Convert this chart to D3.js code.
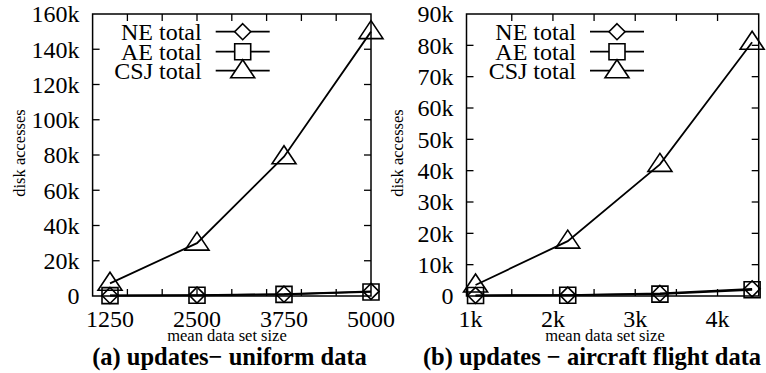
<!DOCTYPE html>
<html>
<head>
<meta charset="utf-8">
<script src="https://cdn.jsdelivr.net/npm/d3@7"></script>
<style>
  body { margin: 0; background: #fff; }
  svg text { font-family: "Liberation Serif", "Times New Roman", serif; fill: #000; }
</style>
</head>
<body>
<div id="chart"></div>
<script>
// panel (a) uniform data
const sizesA = [1250, 2500, 3750, 5000];
const neA = [300, 500, 1000, 2600];
const aeA = [200, 400, 900, 2300];
const csjA = [7200, 30000, 79000, 150000];
const xLabelsA = [1250, 2500, 3750, 5000];

// panel (b) aircraft flight data
const sizesB = [1060, 2180, 3300, 4420];
const neB = [200, 300, 800, 2300];
const aeB = [150, 250, 600, 2000];
const csjB = [3500, 17500, 42000, 81000];
const xLabelsB = [1000, 2000, 3000, 4000];

const seriesNames = ["NE total", "AE total", "CSJ total"];
const markers = ["diamond", "square", "triangle"];

const width = 766, height = 373;
const svg = d3.select("#chart").append("svg")
  .attr("width", width)
  .attr("height", height);

const kfmt = v => v === 0 ? "0" : (v / 1000) + "k";

function markerPath(type) {
  if (type === "diamond") return "M0,-8L8,0L0,8L-8,0Z";
  if (type === "square") return "M-8,-8H8V8H-8Z";
  return "M0,-11L12,7H-12Z";
}

function drawPanel(cfg) {
  const g = svg.append("g");
  const x = d3.scaleLinear().domain(cfg.xDomain).range([cfg.left, cfg.right]);
  const y = d3.scaleLinear().domain(cfg.yDomain).range([cfg.bottom, cfg.top]);

  // y ticks, mirrored
  const yt = d3.range(cfg.yDomain[0], cfg.yDomain[1] + 1, cfg.yStep);
  yt.forEach(v => {
    if (v > cfg.yDomain[0] && v < cfg.yDomain[1]) {
      g.append("line").attr("x1", cfg.left).attr("x2", cfg.left + 7)
        .attr("y1", y(v)).attr("y2", y(v)).attr("stroke", "#000").attr("stroke-width", 1.3);
      g.append("line").attr("x1", cfg.right).attr("x2", cfg.right - 7)
        .attr("y1", y(v)).attr("y2", y(v)).attr("stroke", "#000").attr("stroke-width", 1.3);
    }
    g.append("text").attr("x", cfg.left - 13).attr("y", y(v)).attr("dy", "0.35em")
      .attr("text-anchor", "end").attr("font-size", 24).text(kfmt(v));
  });

  // x ticks, mirrored
  cfg.xTicks.forEach(v => {
    g.append("line").attr("x1", x(v)).attr("x2", x(v))
      .attr("y1", cfg.bottom).attr("y2", cfg.bottom - 7).attr("stroke", "#000").attr("stroke-width", 1.3);
    g.append("line").attr("x1", x(v)).attr("x2", x(v))
      .attr("y1", cfg.top).attr("y2", cfg.top + 7).attr("stroke", "#000").attr("stroke-width", 1.3);
  });
  cfg.xLabels.forEach(v => {
    g.append("text").attr("x", x(v)).attr("y", 326.5)
      .attr("text-anchor", "middle").attr("font-size", 24).text(cfg.xfmt(v));
  });

  // frame
  g.append("rect").attr("x", cfg.left).attr("y", cfg.top)
    .attr("width", cfg.right - cfg.left).attr("height", cfg.bottom - cfg.top)
    .attr("fill", "none").attr("stroke", "#000").attr("stroke-width", 1.5);

  // series
  const line = d3.line().x(d => x(d[0])).y(d => y(d[1]));
  cfg.series.forEach((vals, i) => {
    const pts = cfg.sizes.map((s, j) => [s, vals[j]]);
    g.append("path").attr("d", line(pts)).attr("fill", "none")
      .attr("stroke", "#000").attr("stroke-width", 1.8);
  });
  [1, 0, 2].forEach(i => {
    const pts = cfg.sizes.map((s, j) => [s, cfg.series[i][j]]);
    g.selectAll(null).data(pts).enter().append("path")
      .attr("transform", d => `translate(${x(d[0])},${y(d[1])})`)
      .attr("d", markerPath(markers[i]))
      .attr("fill", "none").attr("stroke", "#000").attr("stroke-width", 1.6);
  });

  // legend
  const rows = [31.7, 51.7, 70.7];
  seriesNames.forEach((name, i) => {
    g.append("text").attr("x", cfg.legX).attr("y", rows[i]).attr("dy", "0.35em")
      .attr("text-anchor", "end").attr("font-size", 24).text(name);
    g.append("line").attr("x1", cfg.legX + 14).attr("x2", cfg.legX + 68)
      .attr("y1", rows[i]).attr("y2", rows[i]).attr("stroke", "#000").attr("stroke-width", 1.8);
    g.append("path").attr("transform", `translate(${cfg.legX + 41},${rows[i]})`)
      .attr("d", markerPath(markers[i]))
      .attr("fill", "#fff").attr("stroke", "#000").attr("stroke-width", 1.6);
  });

  // axis titles
  g.append("text").attr("transform", `translate(${cfg.ylabX},153) rotate(-90)`)
    .attr("text-anchor", "middle").attr("font-size", 16.5).text("disk accesses");
  g.append("text").attr("x", cfg.xlabX).attr("y", 340.5)
    .attr("text-anchor", "middle").attr("font-size", 16.5).text("mean data set size");
  g.append("text").attr("x", cfg.titleX).attr("y", 365)
    .attr("text-anchor", "middle").attr("font-size", 24.5).attr("font-weight", "bold").text(cfg.title);
}

drawPanel({
  left: 92.6, right: 371, top: 14, bottom: 296,
  xDomain: [1000, 5000], yDomain: [0, 160000], yStep: 20000,
  xTicks: d3.range(1500, 5000, 500), xLabels: xLabelsA, xfmt: v => String(v),
  sizes: sizesA, series: [neA, aeA, csjA],
  legX: 201.7, ylabX: 25, xlabX: 227, titleX: 229.5,
  title: "(a) updates\u2212 uniform data"
});

drawPanel({
  left: 466.5, right: 758.7, top: 14, bottom: 296,
  xDomain: [950, 4500], yDomain: [0, 90000], yStep: 10000,
  xTicks: d3.range(1500, 4001, 500), xLabels: xLabelsB, xfmt: v => (v / 1000) + "k",
  sizes: sizesB, series: [neB, aeB, csjB],
  legX: 576, ylabX: 403, xlabX: 605, titleX: 592,
  title: "(b) updates \u2212 aircraft flight data"
});
</script>
</body>
</html>
